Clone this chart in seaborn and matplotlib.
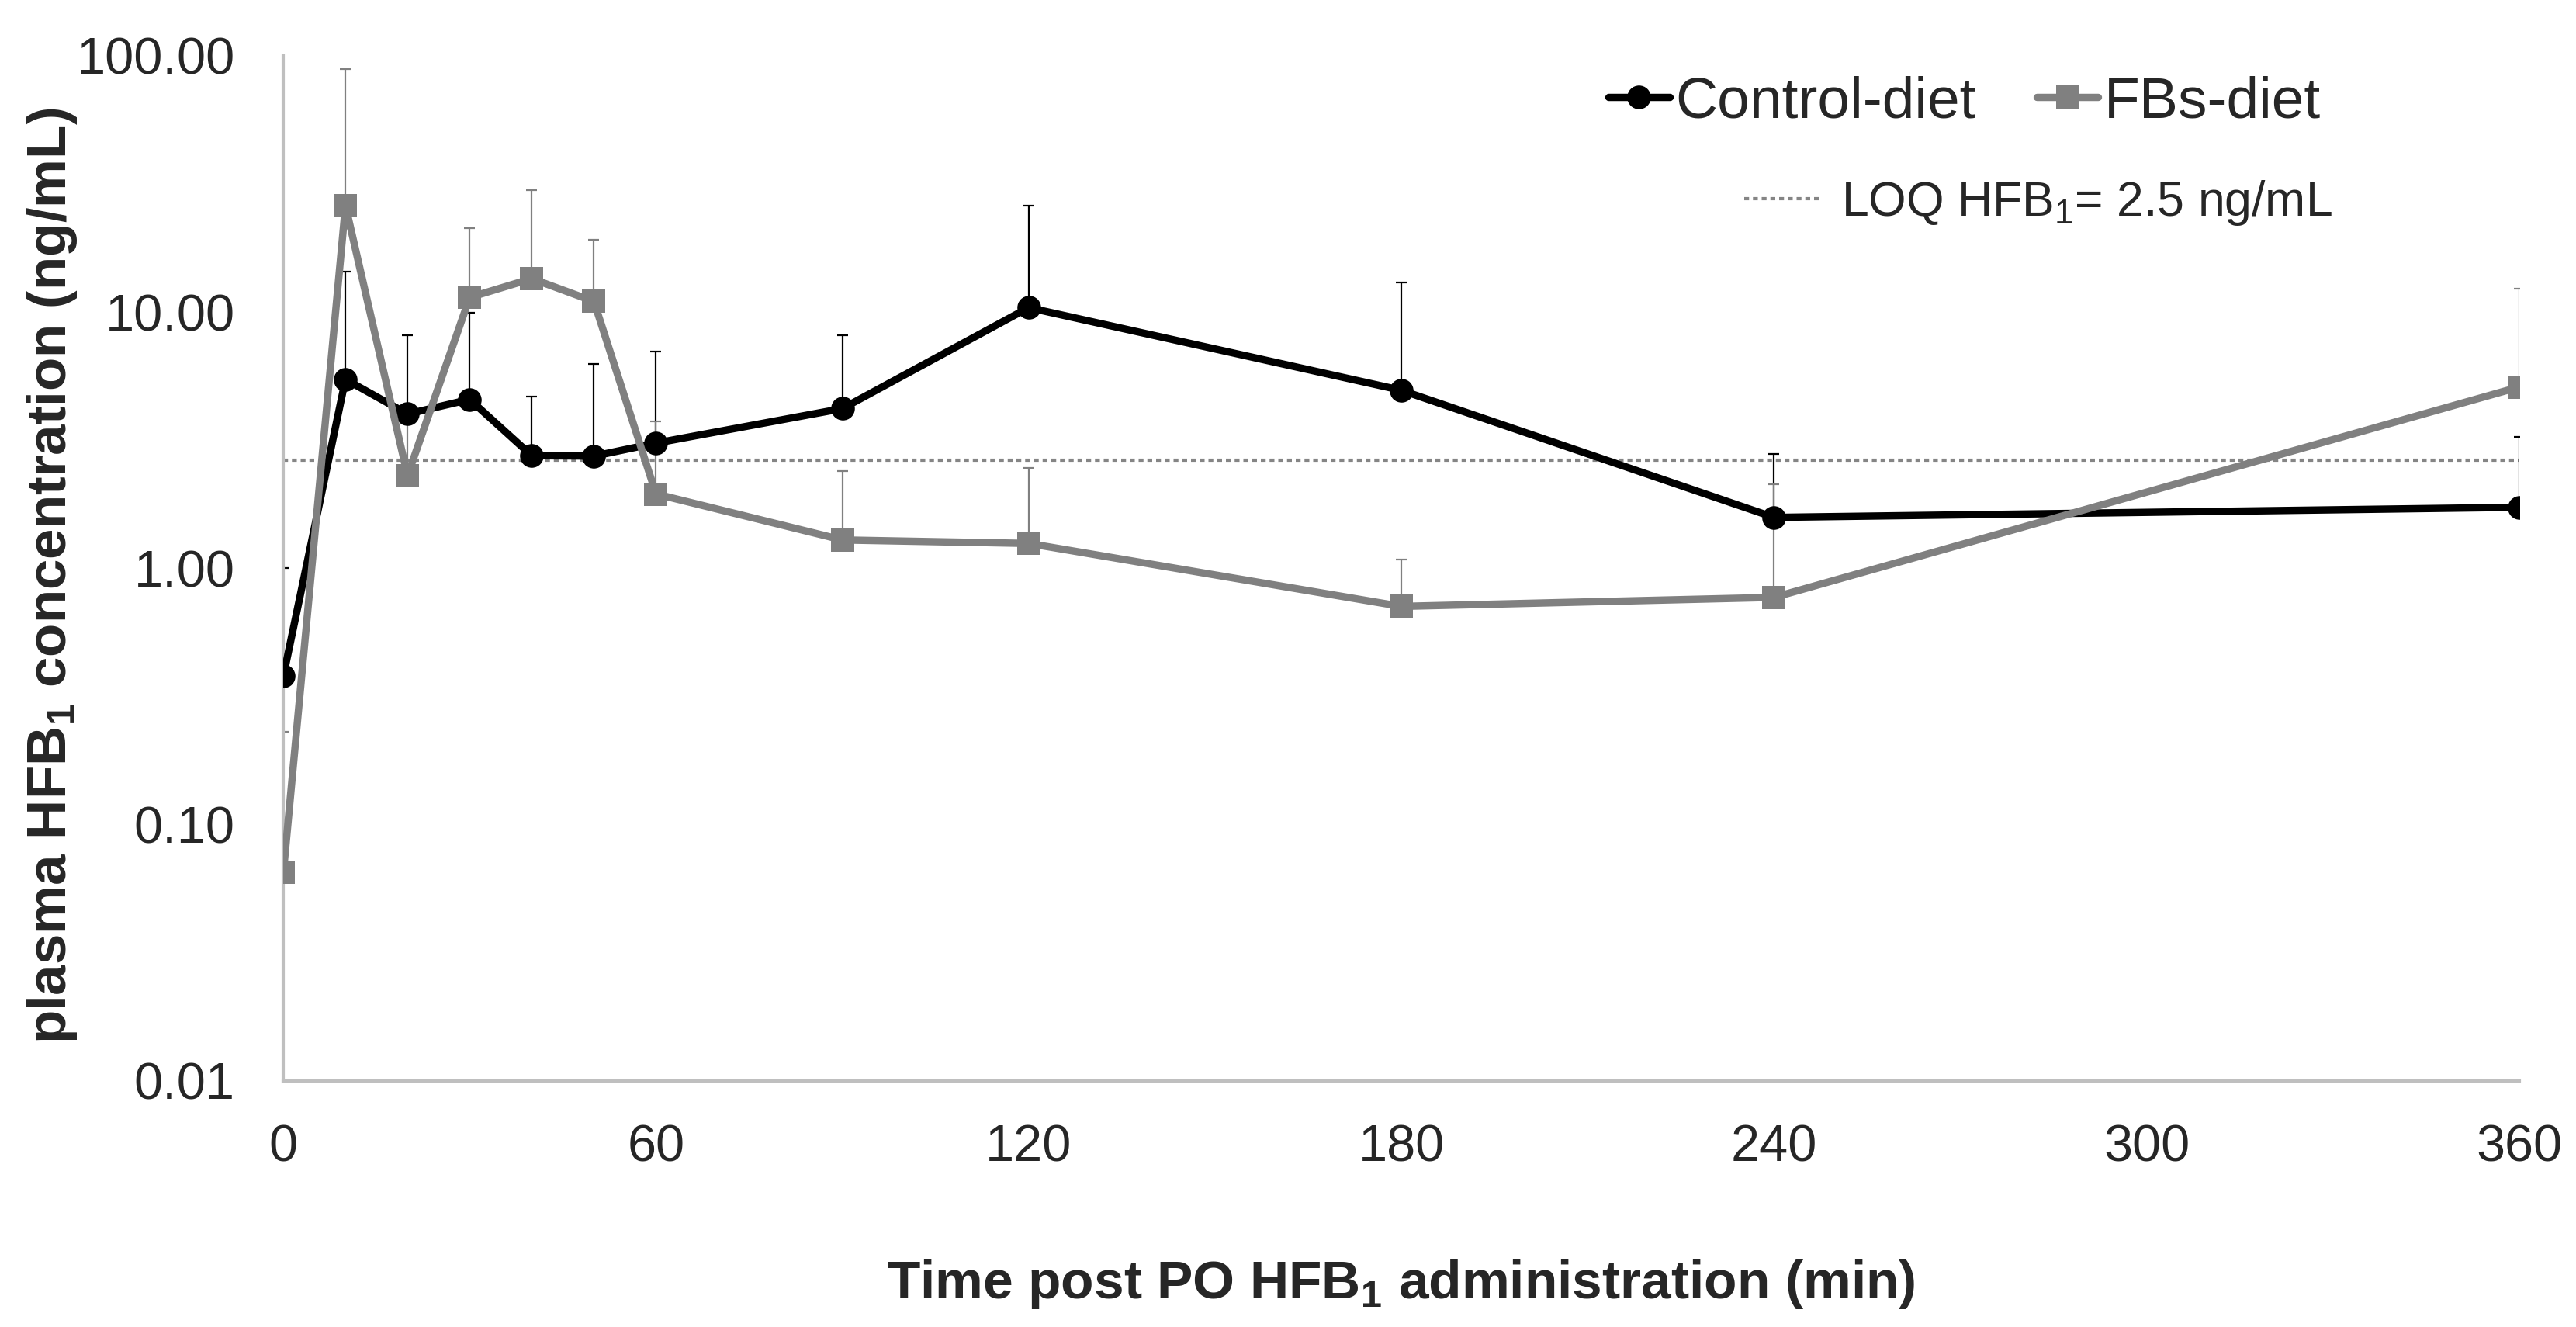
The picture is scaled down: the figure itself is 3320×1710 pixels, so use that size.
import numpy as np
import pandas as pd
import seaborn as sns
import matplotlib.pyplot as plt
from matplotlib.ticker import FixedLocator, FuncFormatter, NullLocator
from matplotlib.lines import Line2D

# Data
time_min = [0, 10, 20, 30, 40, 50, 60, 90, 120, 180, 240, 360]
control_mean = [0.38, 5.46, 4.0, 4.56, 2.75, 2.74, 3.08, 4.2, 10.4, 4.95, 1.58, 1.73]
control_upper = [1.0, 14.4, 8.1, 9.95, 4.67, 6.27, 7.0, 8.1, 26.0, 13.0, 2.8, 3.25]
fbs_mean = [0.065, 26.0, 2.3, 11.4, 13.5, 11.0, 1.95, 1.29, 1.25, 0.71, 0.77, 5.1]
fbs_upper = [0.23, 89.0, 4.0, 21.2, 29.9, 19.2, 3.74, 2.4, 2.47, 1.08, 2.13, 12.3]
loq_value = 2.65
groups = ['Control-diet', 'FBs-diet']

sns.set_style('white')
plt.rcParams['font.family'] = ['Liberation Sans', 'DejaVu Sans']
plt.rcParams['mathtext.fontset'] = 'custom'
plt.rcParams['mathtext.rm'] = 'Liberation Sans'
plt.rcParams['mathtext.bf'] = 'Liberation Sans:bold'

df = pd.DataFrame({
    'time': time_min * 2,
    'conc': control_mean + fbs_mean,
    'diet': [groups[0]] * len(time_min) + [groups[1]] * len(time_min),
})

colors = {'Control-diet': '#000000', 'FBs-diet': '#808080'}
line_w = 6.8
mark_s = 22
loq_style = (0, (1.5, 1.2))

fig = plt.figure(figsize=(33.2, 17.1), dpi=100)
ax = fig.add_axes([0.110, 0.1855, 0.868, 0.7725])

# error bars (upper side only) drawn first, then the lines
ax.errorbar(time_min, control_mean,
            yerr=[np.zeros(len(time_min)), np.array(control_upper) - np.array(control_mean)],
            fmt='none', ecolor='#000000', elinewidth=1.6, capsize=4.8, capthick=1.6, zorder=2)
ax.errorbar(time_min, fbs_mean,
            yerr=[np.zeros(len(time_min)), np.array(fbs_upper) - np.array(fbs_mean)],
            fmt='none', ecolor='#808080', elinewidth=1.6, capsize=4.8, capthick=1.6, zorder=2)

ax.axhline(loq_value, color='#858585', linestyle=loq_style, linewidth=3, zorder=1)

sns.lineplot(data=df, x='time', y='conc', hue='diet', style='diet',
             hue_order=groups, style_order=groups, palette=colors,
             markers={'Control-diet': 'o', 'FBs-diet': 's'}, dashes=False,
             linewidth=line_w, markersize=mark_s, markeredgewidth=0, legend=False,
             ax=ax, zorder=3)

ax.set_yscale('log')
ax.set_ylim(0.01, 100)
ax.set_xlim(0, 360)
ax.yaxis.set_major_locator(FixedLocator([0.01, 0.1, 1, 10, 100]))
ax.yaxis.set_minor_locator(NullLocator())
ax.yaxis.set_major_formatter(FuncFormatter(lambda v, p: f'{v:.2f}'))
ax.set_xticks([0, 60, 120, 180, 240, 300, 360])
ax.tick_params(axis='both', length=0, labelsize=48)
ax.tick_params(axis='y', pad=45)
ax.tick_params(axis='x', pad=40)

for side in ['top', 'right']:
    ax.spines[side].set_visible(False)
for side in ['left', 'bottom']:
    ax.spines[side].set_color('#bfbfbf')
    ax.spines[side].set_linewidth(3)

ax.set_xlabel(r'Time post PO HFB$_\mathbf{1}$ administration (min)', fontsize=50,
              fontweight='bold', labelpad=80)
ax.set_ylabel(r'plasma HFB$_\mathbf{1}$ concentration (ng/mL)', fontsize=51,
              fontweight='bold')
ax.yaxis.set_label_coords(-0.0913, 0.493)

# legends
h_ctrl = Line2D([], [], color='#000000', marker='o', markersize=mark_s, linewidth=line_w, markeredgewidth=0)
h_fbs = Line2D([], [], color='#808080', marker='s', markersize=mark_s, linewidth=line_w, markeredgewidth=0)
fig.legend([h_ctrl, h_fbs], groups, loc='center left', bbox_to_anchor=(0.6244, 0.923),
           ncol=2, frameon=False, fontsize=54, borderpad=0, borderaxespad=0,
           handlelength=1.05, handletextpad=0.1, columnspacing=1.05)
h_loq = Line2D([], [], color='#858585', linestyle=loq_style, linewidth=3)
fig.legend([h_loq], [r'LOQ HFB$_1$= 2.5 ng/mL'], loc='center left', bbox_to_anchor=(0.677, 0.847),
           frameon=False, fontsize=45, borderpad=0, borderaxespad=0,
           handlelength=1.55, handletextpad=0.45)

fig.savefig('out.png', dpi=100)
